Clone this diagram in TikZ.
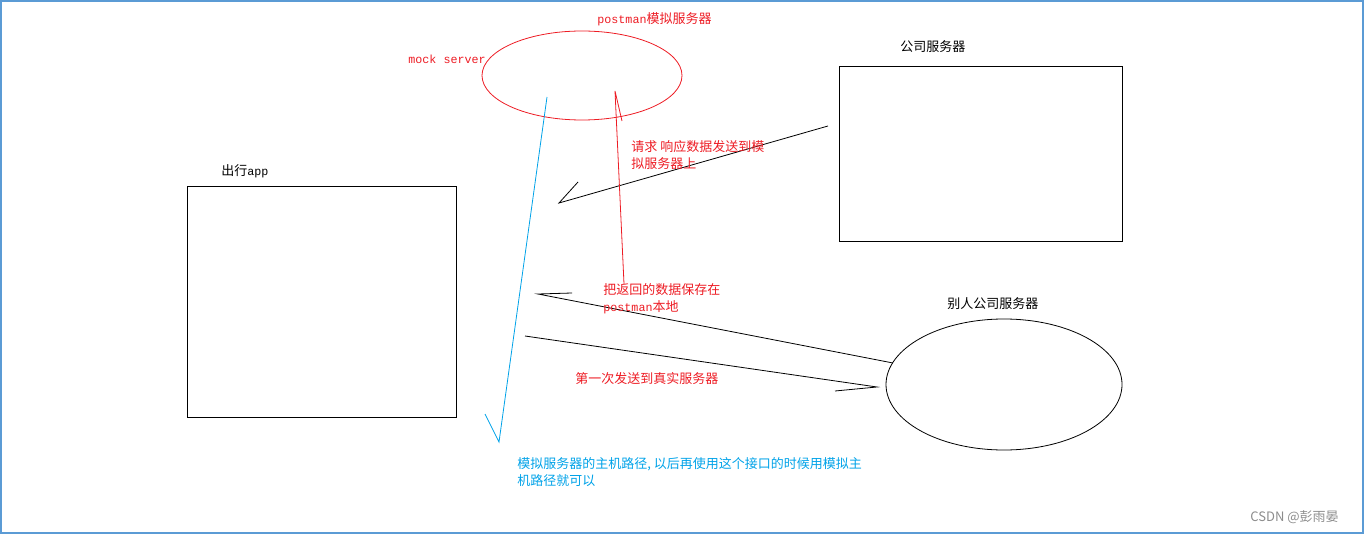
\documentclass[tikz,border=0pt]{standalone}
\usepackage{fontspec}
\setmainfont{Noto Sans CJK SC}
\setsansfont{Noto Sans CJK SC}
\setmonofont{Liberation Mono}[Scale=0.9]
\usetikzlibrary{shapes.geometric,positioning}

\definecolor{pred}{RGB}{237,28,36}
\definecolor{pblue}{RGB}{0,162,232}
\definecolor{frameblue}{RGB}{91,155,213}

\begin{document}
\begin{tikzpicture}[
  x=1pt, y=-1pt, line width=0.8pt,
  every node/.style={font=\fontsize{13}{17}\selectfont, inner sep=0pt},
  box/.style={draw, rectangle, line width=0.8pt},
  oval/.style={draw, ellipse, line width=0.8pt},
  lbl/.style={anchor=west, align=left},
  note/.style={lbl, text=pred},
  tip/.style={lbl, text=pblue}]

  \useasboundingbox (0,0) rectangle (1364,534);
  \draw[frameblue, line width=2pt] (1,1) rectangle (1363,533);

  % --- the four parties ---
  \node[oval, draw=pred, minimum width=200pt, minimum height=89pt] (mock) at (582,75.5) {};
  \node[box, minimum width=283pt, minimum height=175pt] (comp) at (980.5,153.5) {};
  \node[box, minimum width=269pt, minimum height=231pt] (app) at (321.5,301.5) {};
  \node[oval, minimum width=236pt, minimum height=131pt] (other) at (1004,384.5) {};

  % --- their names ---
  \node[note] (mocktitle) at (597,19) {\texttt{postman}模拟服务器};
  \node[note] (mockname) at (408,59) {\texttt{mock server}};
  \node[lbl] (comptitle) at (900,47) {公司服务器};
  \node[lbl] (apptitle) at (221,171) {出行\texttt{app}};
  \node[lbl] (othertitle) at (947,304) {别人公司服务器};

  % --- free ends of the hand drawn arrows ---
  \coordinate (c1) at (828,126);  \coordinate (c2) at (559,203);
  \coordinate (r1) at (624,284);  \coordinate (r2) at (615,91);
  \coordinate (o1) at (893,363);  \coordinate (o2) at (538,294);
  \coordinate (a1) at (525,336);  \coordinate (a2) at (877,387);
  \coordinate (b1) at (547,97);   \coordinate (b2) at (499,442);

  \draw (c1) -- (c2) -- ++(19,-21);
  \draw[pred] (r1) -- (r2) -- ++(7,30);
  \draw (o1) -- (o2) -- ++(34,-1);
  \draw (a1) -- (a2) -- ++(-42,4);
  \draw[pblue] (b1) -- (b2) -- ++(-14,-28);

  % --- what the arrows say ---
  \node[note] (reqtext) at (631,155) {请求 响应数据发送到模\\拟服务器上};
  \node[note] (savetext) at (603,299) {把返回的数据保存在\\\texttt{postman}本地};
  \node[note] (firsttext) at (575,379) {第一次发送到真实服务器};
  \node[tip] (hosttext) at (517,472) {模拟服务器的主机路径, 以后再使用这个接口的时候用模拟主\\机路径就可以};

  \node[lbl, text=black!45, font=\fontsize{13}{15}\selectfont\sffamily] (mark) at (1250,517) {CSDN @彭雨晏};
\end{tikzpicture}
\end{document}
